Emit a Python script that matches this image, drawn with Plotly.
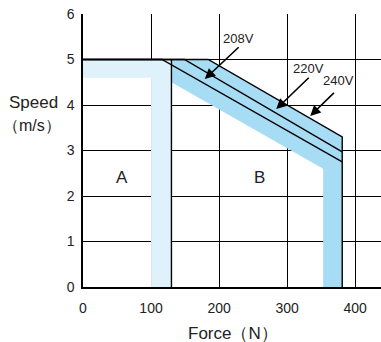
import plotly.graph_objects as go

# ---- data ----
x_ticks = [0, 100, 200, 300, 400]
y_ticks = [0, 1, 2, 3, 4, 5, 6]

# Region A (light band): force, speed
regionA_force = [0, 130, 130, 100, 100, 0]
regionA_speed = [5.0, 5.0, 0, 0, 4.6, 4.6]

# Region B (dark band)
regionB_force = [130, 184, 381, 381, 353, 353, 130]
regionB_speed = [5.0, 5.0, 3.3, 0, 0, 2.6, 4.5]

# Voltage curves
v208_force = [0, 116, 381]
v208_speed = [5.0, 5.0, 2.75]
v220_force = [0, 149, 381]
v220_speed = [5.0, 5.0, 2.97]
v240_force = [0, 184, 381, 381]
v240_speed = [5.0, 5.0, 3.3, 0]
limitA_force = [130, 130]
limitA_speed = [0, 5.0]

# labels
voltage_labels = ["208V", "220V", "240V"]
label_pos = [(228, 5.47), (332, 4.81), (375, 4.53)]
arrow_tail = [(231, 5.30), (334, 4.63), (371, 4.30)]
arrow_head = [(179, 4.57), (284, 3.91), (334, 3.76)]

region_labels = ["A", "B"]
region_label_pos = [(57, 2.4), (259, 2.4)]

LIGHT = "#dff1fb"
DARK = "#a7dcf5"
FONT = "Liberation Sans, Arial, sans-serif"

fig = go.Figure()
fig.add_trace(go.Scatter(x=regionA_force, y=regionA_speed, fill="toself", fillcolor=LIGHT,
                         mode="lines", line=dict(width=0), hoverinfo="skip"))
fig.add_trace(go.Scatter(x=regionB_force, y=regionB_speed, fill="toself", fillcolor=DARK,
                         mode="lines", line=dict(width=0), hoverinfo="skip"))
for fx, sy in [(v208_force, v208_speed), (v220_force, v220_speed), (v240_force, v240_speed),
               (limitA_force, limitA_speed)]:
    fig.add_trace(go.Scatter(x=fx, y=sy, mode="lines", line=dict(color="black", width=1.4),
                             hoverinfo="skip"))

for t, (tx, ty), (ax, ay), (hx, hy) in zip(voltage_labels, label_pos, arrow_tail, arrow_head):
    fig.add_annotation(x=tx, y=ty, xref="x", yref="y", text=t, showarrow=False,
                       xanchor="center", yanchor="middle",
                       font=dict(size=13, color="#222", family=FONT))
    fig.add_annotation(x=hx, y=hy, ax=ax, ay=ay, xref="x", yref="y", axref="x", ayref="y",
                       text="", showarrow=True, arrowhead=2, arrowsize=1.3, arrowwidth=1.6,
                       arrowcolor="black")

for t, (tx, ty) in zip(region_labels, region_label_pos):
    fig.add_annotation(x=tx, y=ty, xref="x", yref="y", text=t, showarrow=False,
                       xanchor="center", yanchor="middle",
                       font=dict(size=17, color="#222", family=FONT))

W, H = 381, 342
L, R, T, B = 83, 0, 14, 55
pw, ph = W - L - R, H - T - B

def px(x):
    return (x - L) / pw

def py(y):
    return (H - B - y) / ph

for text, (cx, cy), size in [("Speed", (33, 103), 17), ("（m/s）", (32, 125), 16),
                             ("Force（N）", (233, 333), 17)]:
    fig.add_annotation(x=px(cx), y=py(cy), xref="paper", yref="paper", text=text,
                       showarrow=False, xanchor="center", yanchor="middle",
                       font=dict(size=size, color="#222", family=FONT))

fig.update_layout(
    width=W, height=H, margin=dict(l=L, r=R, t=T, b=B),
    paper_bgcolor="white", plot_bgcolor="white", showlegend=False,
    font=dict(family=FONT, size=14, color="#222"),
)
fig.update_xaxes(range=[0, 438], tickvals=x_ticks, showgrid=True, gridcolor="black", gridwidth=1,
                 zeroline=False, showline=True, linecolor="black", linewidth=1.5,
                 ticks="outside", ticklen=7, tickcolor="rgba(0,0,0,0)",
                 tickfont=dict(size=14, color="#222"))
fig.update_yaxes(range=[0, 6], tickvals=y_ticks, showgrid=True, gridcolor="black", gridwidth=1,
                 zeroline=False, showline=True, linecolor="black", linewidth=1.5,
                 ticks="outside", ticklen=4, tickcolor="rgba(0,0,0,0)",
                 tickfont=dict(size=14, color="#222"))

fig.write_html("out.html", config={"displayModeBar": False},
               post_script="document.body.style.margin='0';document.body.style.overflow='hidden';")
